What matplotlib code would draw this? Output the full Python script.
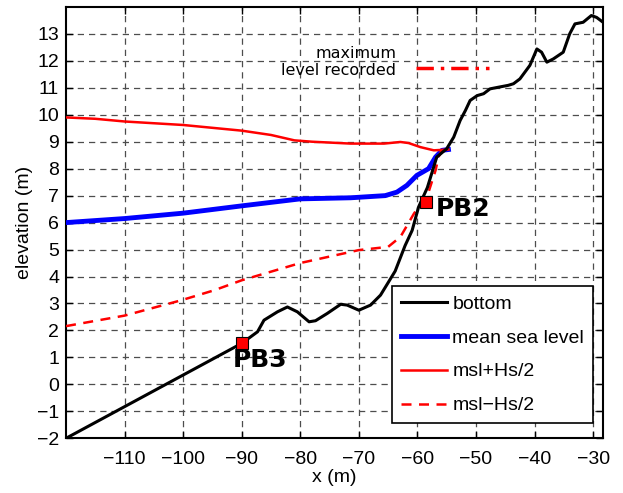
import matplotlib
matplotlib.use("Agg")
import matplotlib.pyplot as plt

# bottom profile
bot_x = [-120, -90, -87.3, -86.2, -83.9, -82.2, -80.5, -78.5, -77.4,
         -75.4, -73.1, -72, -70, -68, -66.3, -63.8, -62.1, -60.9, -59.8, -58.3, -56.7,
         -55, -53.8, -52.7, -51.8, -51, -49.8, -48.7, -47.6, -46.2, -44.5, -43.6, -42.5,
         -40.8, -39.6, -38.8, -37.9, -36.8, -35.1, -34.0, -33.1, -31.7, -30.3, -29.4, -28.3]
bot_y = [-2, 1.52, 1.95, 2.38, 2.69, 2.87, 2.69, 2.32, 2.36,
         2.63, 2.97, 2.94, 2.75, 2.94, 3.31, 4.2, 5.15, 5.71, 6.58, 7.3, 8.43,
         8.74, 9.17, 9.79, 10.16, 10.53, 10.71, 10.78, 10.96, 11.02, 11.09, 11.15, 11.33,
         11.83, 12.44, 12.32, 11.95, 12.07, 12.32, 13.0, 13.37, 13.43, 13.68, 13.61, 13.43]

# mean sea level
msl_x = [-120, -110, -100, -90, -80, -71.4, -65.5, -63.5, -61.8, -60.1, -58.1, -56.9, -55.8, -54.7]
msl_y = [6.0, 6.15, 6.35, 6.62, 6.88, 6.92, 7.0, 7.13, 7.38, 7.75, 8.0, 8.43, 8.68, 8.71]

# msl + Hs/2
hi_x = [-120, -115, -110, -100, -90, -85, -81, -78, -71.4, -65.7, -62.9, -61.5, -59.5, -57.2, -54.7]
hi_y = [9.9, 9.85, 9.75, 9.62, 9.41, 9.25, 9.05, 9.0, 8.93, 8.93, 8.99, 8.95, 8.8, 8.68, 8.71]

# msl - Hs/2
lo_x = [-120, -110, -100.3, -94.7, -90, -80, -70, -65, -62.9, -60.6, -58.1, -56.9, -56.4, -55.8]
lo_y = [2.16, 2.55, 3.12, 3.49, 3.86, 4.5, 4.98, 5.1, 5.47, 6.33, 7.13, 7.94, 8.43, 8.7]

# pressure sensors
pb_x = [-58.5, -90]
pb_y = [6.75, 1.52]
pb_names = ["PB2", "PB3"]

max_x = [-60.3, -47.8]
max_y = [11.74, 11.74]

fig = plt.figure(figsize=(6.23, 4.93), dpi=100)
ax = fig.add_axes([0.106, 0.111, 0.862, 0.875])

ax.plot(bot_x, bot_y, color="black", lw=2.2, label="bottom", zorder=4)
ax.plot(msl_x, msl_y, color="blue", lw=3.5, label="mean sea level", zorder=3)
ax.plot(hi_x, hi_y, color="red", lw=1.8, label="msl+Hs/2", zorder=3)
ax.plot(lo_x, lo_y, color="red", lw=1.8, ls=(0, (4, 3)), label="msl\u2212Hs/2", zorder=3)
ax.plot(max_x, max_y, color="red", lw=2.5, ls=(0, (5, 2, 1, 2)), zorder=3)

ax.plot(pb_x, pb_y, ls="none", marker="s", ms=9, mfc="red", mec="black", mew=0.8, zorder=5)
ax.text(-56.9, 6.5, pb_names[0], fontsize=18, fontweight="bold", va="center", ha="left", zorder=6)
ax.text(-91.6, 0.9, pb_names[1], fontsize=18, fontweight="bold", va="center", ha="left", zorder=6)

ax.text(-63.6, 11.95, "maximum\nlevel recorded", ha="right", va="center", fontsize=11.5,
        linespacing=1.2)

ax.set_xlim(-120, -28.3)
ax.set_ylim(-2, 14)
ax.set_xticks(range(-110, -29, 10))
ax.set_yticks(range(-2, 14))
ax.set_xticklabels([str(v).replace("-", "\u2212") for v in range(-110, -29, 10)])
ax.set_yticklabels([str(v).replace("-", "\u2212") for v in range(-2, 14)])

ax.grid(True, color="0.3", ls=(0, (5, 4)), lw=0.9)
ax.tick_params(direction="in", top=True, right=True, length=5, width=1.0,
               labelsize=14, pad=5)
ax.tick_params(axis="x", pad=9)
for lab in ax.get_xticklabels() + ax.get_yticklabels():
    lab.set_fontfamily("Liberation Sans")
for s in ax.spines.values():
    s.set_linewidth(1.5)

ax.set_xlabel("x (m)", fontsize=14, family="Liberation Sans", labelpad=1)
ax.set_ylabel("elevation (m)", fontsize=14, family="Liberation Sans", labelpad=3)

leg = ax.legend(loc="lower right", bbox_to_anchor=(0.981, 0.035), borderaxespad=0,
                prop={"family": "Liberation Sans", "size": 14}, handlelength=2.4,
                fancybox=False, framealpha=1, edgecolor="black", borderpad=0.45,
                labelspacing=0.84, handletextpad=0.25)
leg.get_frame().set_linewidth(1.2)

fig.savefig("out.png", dpi=100)
